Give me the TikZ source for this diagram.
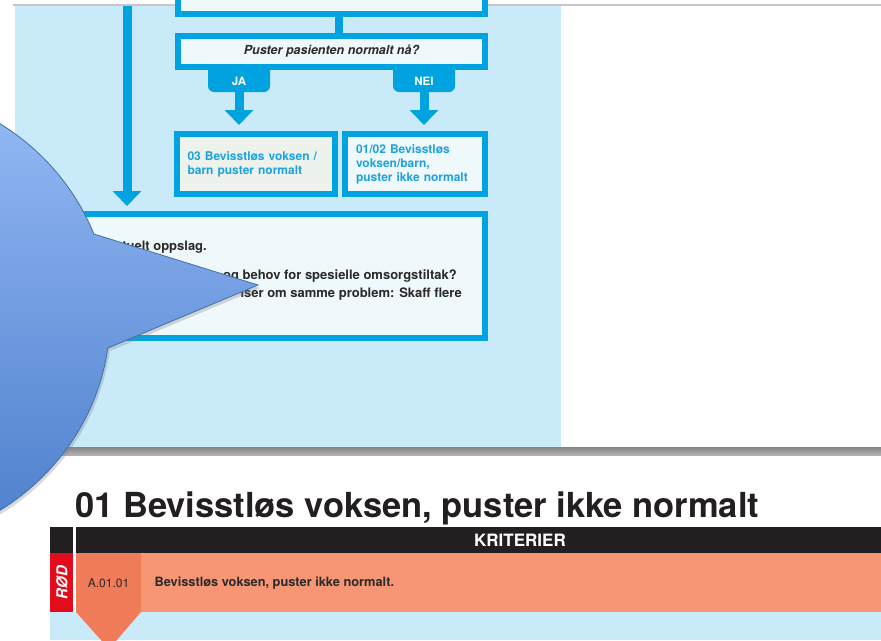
\documentclass[tikz,border=0pt]{standalone}
\usepackage{fontspec}
\setmainfont{TeX Gyre Heros}
\usetikzlibrary{calc,arrows.meta,shadows}
\usepackage{xcolor}
\definecolor{pPanel}{HTML}{C8EAF9}
\definecolor{pCyan}{HTML}{00A3E0}
\definecolor{pBoxFill}{HTML}{EFF8FB}
\definecolor{pGreyFill}{HTML}{EEF2EC}
\definecolor{pBoxText}{HTML}{1CA2DE}
\definecolor{pDark}{HTML}{2A2A2A}
\definecolor{pBlack}{HTML}{231F20}
\definecolor{pRed}{HTML}{E30B1C}
\definecolor{pSalmon}{HTML}{F69675}
\definecolor{pSalmonDark}{HTML}{F07B59}
\definecolor{pCallTop}{HTML}{96BAF5}
\definecolor{pCallBottom}{HTML}{4B7ECB}
\definecolor{pCallLine}{HTML}{3F6FAA}

\begin{document}
\begin{tikzpicture}[x=1pt,y=-1pt]
    \pgfmathsetmacro{\bw}{6}	%border width
    \pgfmathsetmacro{\rx}{240}	%bubble radii
    \pgfmathsetmacro{\ry}{230}

    \tikzset{
        flowbox/.style={draw=pCyan, line width=\bw pt, fill=pBoxFill, inner xsep=11pt, inner ysep=0pt,
            align=left, text=pBoxText, font=\bfseries\fontsize{12}{14}\selectfont},
        tab/.style={fill=pCyan, rounded corners=6pt, minimum width=62pt, minimum height=32pt,
            text height=19pt, text=white, font=\bfseries\fontsize{11.5}{13}\selectfont},
        flowarrow/.style={draw=pCyan, line width=9pt, -{Triangle[width=28pt,length=15pt]}},
        flowline/.style={draw=pCyan, line width=8pt},
        bodytext/.style={anchor=base east, text=pDark, font=\bfseries\fontsize{13}{16}\selectfont, inner sep=0pt},
        speechblob/.style={draw=pCallLine, line width=0.8pt, top color=pCallTop, bottom color=pCallBottom,
            drop shadow={opacity=0.3, shadow xshift=2pt, shadow yshift=-3pt}}
    }

    \useasboundingbox (0,0) rectangle (881,640);
    \clip (0,0) rectangle (881,640);
    \fill[white] (0,0) rectangle (881,640);

    % page above
    \draw[black!22, line width=1.5pt] (13,5) -- (881,5);
    \fill[pPanel] (15,6) rectangle (561,447);
    \shade[top color=black!48, bottom color=black!30] (13,447) rectangle (881,455);

    \coordinate (top) at (127,6);
    \coordinate (link) at (339,0);

    \node[tab] (ja) at (239,76) {JA};
    \node[tab] (nei) at (424,76) {NEI};

    \node[flowbox, minimum width=307pt, minimum height=51pt] (topbox) at (331.5,-11.5) {};
    \node[flowbox, minimum width=307pt, minimum height=31pt, align=center, text=pDark,
        font=\bfseries\itshape\fontsize{12.5}{14}\selectfont] (quest) at (331.5,51.5) {Puster pasienten normalt nå?};
    \node[flowbox, fill=pGreyFill, minimum width=155pt, minimum height=60pt, text width=136pt] (box03) at (255.5,164)
        {03 Bevisstløs voksen /\\barn puster normalt};
    \node[flowbox, minimum width=140pt, minimum height=60pt, text width=118pt] (box0102) at (415,164)
        {01/02 Bevisstløs\\voksen/barn,\\puster ikke normalt};
    \node[flowbox, minimum width=407pt, minimum height=124pt] (bigbox) at (281.5,276) {};

    \draw[flowline] (topbox.south -| link) -- (quest.north -| link);
    \draw[flowarrow, shorten >=6pt] (ja) -- (ja |- box03.north);
    \draw[flowarrow, shorten >=6pt] (nei) -- (nei |- box0102.north);
    \draw[flowarrow, shorten >=5pt] (top) -- (top |- bigbox.north);

    \node[bodytext] (line1) at (207,250) {tuelt oppslag.};
    \node[bodytext] (line2) at (457,279) {og behov for spesielle omsorgstiltak?};
    \node[bodytext] (line3) at (462,297) {iser om samme problem: Skaff flere};

    % page below
    \node[anchor=base west, inner sep=0pt, text=pBlack, font=\bfseries\fontsize{34.5}{40}\selectfont] (title) at (75,517)
        {01 Bevisstløs voksen, puster ikke normalt};
    \fill[pBlack] (50,527) rectangle (881,553);
    \fill[pPanel] (50,612) rectangle (881,640);
    \fill[pRed] (50,553) rectangle (73,612);
    \fill[pSalmon] (76,553) rectangle (881,612);
    \fill[pSalmonDark] (76,553) -- (141,553) -- (141,612) -- (109,649) -- (76,612) -- cycle;
    \fill[white] (73,527) rectangle (76,612);

    \node[text=white, font=\bfseries\fontsize{17}{19}\selectfont] (crit) at (520,540) {KRITERIER};
    \node[rotate=90, text=white, font=\bfseries\itshape\fontsize{15}{17}\selectfont] (level) at (62,582.5) {RØD};
    \node[text=pDark, font=\fontsize{12}{14}\selectfont] (code) at (108.5,583.5) {A.01.01};
    \node[anchor=west, text=pDark, font=\bfseries\fontsize{12.8}{15}\selectfont] (crittext) at (151,583.5)
        {Bevisstløs voksen, puster ikke normalt.};

    % speech bubble on top
    \draw[speechblob] plot[domain=-135:-21.15, samples=60, variable=\t] ({-130+\rx*cos(\t)},{317+\ry*sin(\t)})
        -- (258,285)
        -- plot[domain=7.75:135, samples=60, variable=\t] ({-130+\rx*cos(\t)},{317+\ry*sin(\t)})
        -- cycle;
\end{tikzpicture}
\end{document}
